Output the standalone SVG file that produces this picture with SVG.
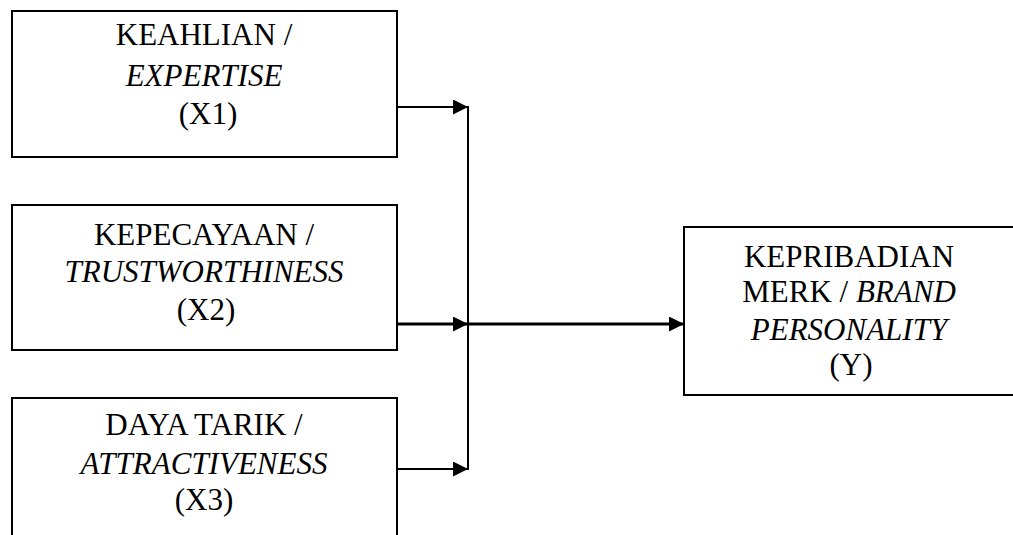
<svg xmlns="http://www.w3.org/2000/svg" width="1013" height="535" viewBox="0 0 1013 535">
<style>
.box{fill:#fff;stroke:#000;stroke-width:2}
.t{font-family:"Liberation Serif","Times New Roman",serif;font-size:31px;fill:#000;text-anchor:middle}
.i{font-style:italic}
.c{fill:none;stroke:#000;stroke-width:2}
.c3{fill:none;stroke:#000;stroke-width:3}
</style>
<defs>
<marker id="ah" markerUnits="userSpaceOnUse" markerWidth="16" markerHeight="16" refX="15" refY="7.5" orient="auto">
<path d="M0,0 L15,7.5 L0,15 Z" fill="#000"/>
</marker>
</defs>
<rect width="1013" height="535" fill="#fff"/>
<g id="node-x1">
<rect class="box" x="12" y="11" width="385" height="146"/>
<text class="t" x="204" y="45">KEAHLIAN /</text>
<text class="t i" x="204" y="86">EXPERTISE</text>
<text class="t" x="208" y="124">(X1)</text>
</g>
<g id="node-x2">
<rect class="box" x="12" y="205" width="385" height="145"/>
<text class="t" x="204" y="245">KEPECAYAAN /</text>
<text class="t i" x="204" y="282">TRUSTWORTHINESS</text>
<text class="t" x="206" y="320">(X2)</text>
</g>
<g id="node-x3">
<rect class="box" x="12" y="398" width="385" height="150"/>
<text class="t" x="204" y="435">DAYA TARIK /</text>
<text class="t i" x="204" y="474">ATTRACTIVENESS</text>
<text class="t" x="204" y="510">(X3)</text>
</g>
<g id="node-y">
<rect class="box" x="684" y="227" width="332" height="168"/>
<text class="t" x="849" y="267">KEPRIBADIAN</text>
<text class="t" x="849" y="302">MERK / <tspan class="i">BRAND</tspan></text>
<text class="t i" x="849" y="340">PERSONALITY</text>
<text class="t" x="851" y="375">(Y)</text>
</g>
<g id="connectors">
<line class="c" x1="468" y1="106" x2="468" y2="470"/>
<line class="c" x1="397" y1="107" x2="468" y2="107" marker-end="url(#ah)"/>
<line class="c3" x1="397" y1="324" x2="468" y2="324" marker-end="url(#ah)"/>
<line class="c" x1="397" y1="469" x2="468" y2="469" marker-end="url(#ah)"/>
<line class="c3" x1="468" y1="324" x2="684" y2="324" marker-end="url(#ah)"/>
</g>
</svg>
